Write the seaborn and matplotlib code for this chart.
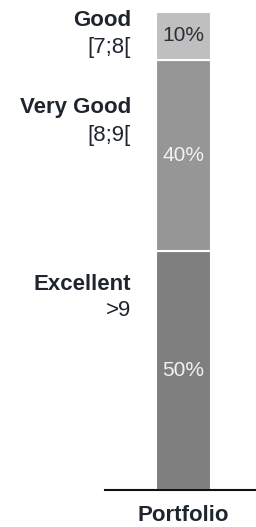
import matplotlib
matplotlib.use("Agg")
import pandas as pd
import seaborn as sns
from matplotlib import pyplot as plt

# data
portfolio = ["Portfolio"]
segments = ["Excellent", "Very Good", "Good"]
ranges = [">9", "[8;9[", "[7;8["]
shares = [50, 40, 10]
colors = ["#7f7f7f", "#969696", "#bfbfbf"]
pct_colors = ["#f2f2f2", "#f2f2f2", "#2b2f36"]

sns.set_theme(style="white")
plt.rcParams["font.family"] = ["Liberation Sans", "DejaVu Sans"]
text_color = "#1f252e"

fig = plt.figure(figsize=(2.56, 5.27), dpi=100)
ax = fig.add_axes([0.41, 0.0702, 0.59, 0.907])

df = pd.DataFrame({"group": portfolio * len(segments), "segment": segments, "share": shares})

bottom = 0
for i, row in df.iterrows():
    sns.barplot(x=[row["group"]], y=[row["share"]], bottom=bottom, color=colors[i],
                width=0.8, edgecolor="white", linewidth=1.5, saturation=1, ax=ax)
    ax.text(0, bottom + row["share"] / 2, f'{row["share"]}%', ha="center", va="center",
            fontsize=15, color=pct_colors[i])
    bottom += row["share"]

ax.set_xlim(-1.142, 1.054)
ax.set_ylim(0, 100)
ax.set_yticks([])
ax.set_ylabel("")
ax.set_xlabel("")
for side in ["top", "right", "left"]:
    ax.spines[side].set_visible(False)
ax.spines["bottom"].set_color("#111111")
ax.spines["bottom"].set_linewidth(1.5)
ax.tick_params(axis="x", length=0, pad=11)
for lbl in ax.get_xticklabels():
    lbl.set_fontweight("bold")
    lbl.set_fontsize(16)
    lbl.set_color(text_color)

# category labels to the left of the bar
label_y = {"Good": (21, 48), "Very Good": (108, 136), "Excellent": (284, 311)}
for seg, rng in zip(segments, ranges):
    y1, y2 = label_y[seg]
    fig.text(131 / 256, 1 - y1 / 527, seg, ha="right", va="center",
             fontsize=16, fontweight="bold", color=text_color)
    fig.text(131 / 256, 1 - y2 / 527, rng, ha="right", va="center",
             fontsize=16, color=text_color)

fig.savefig("out.png", dpi=100)
